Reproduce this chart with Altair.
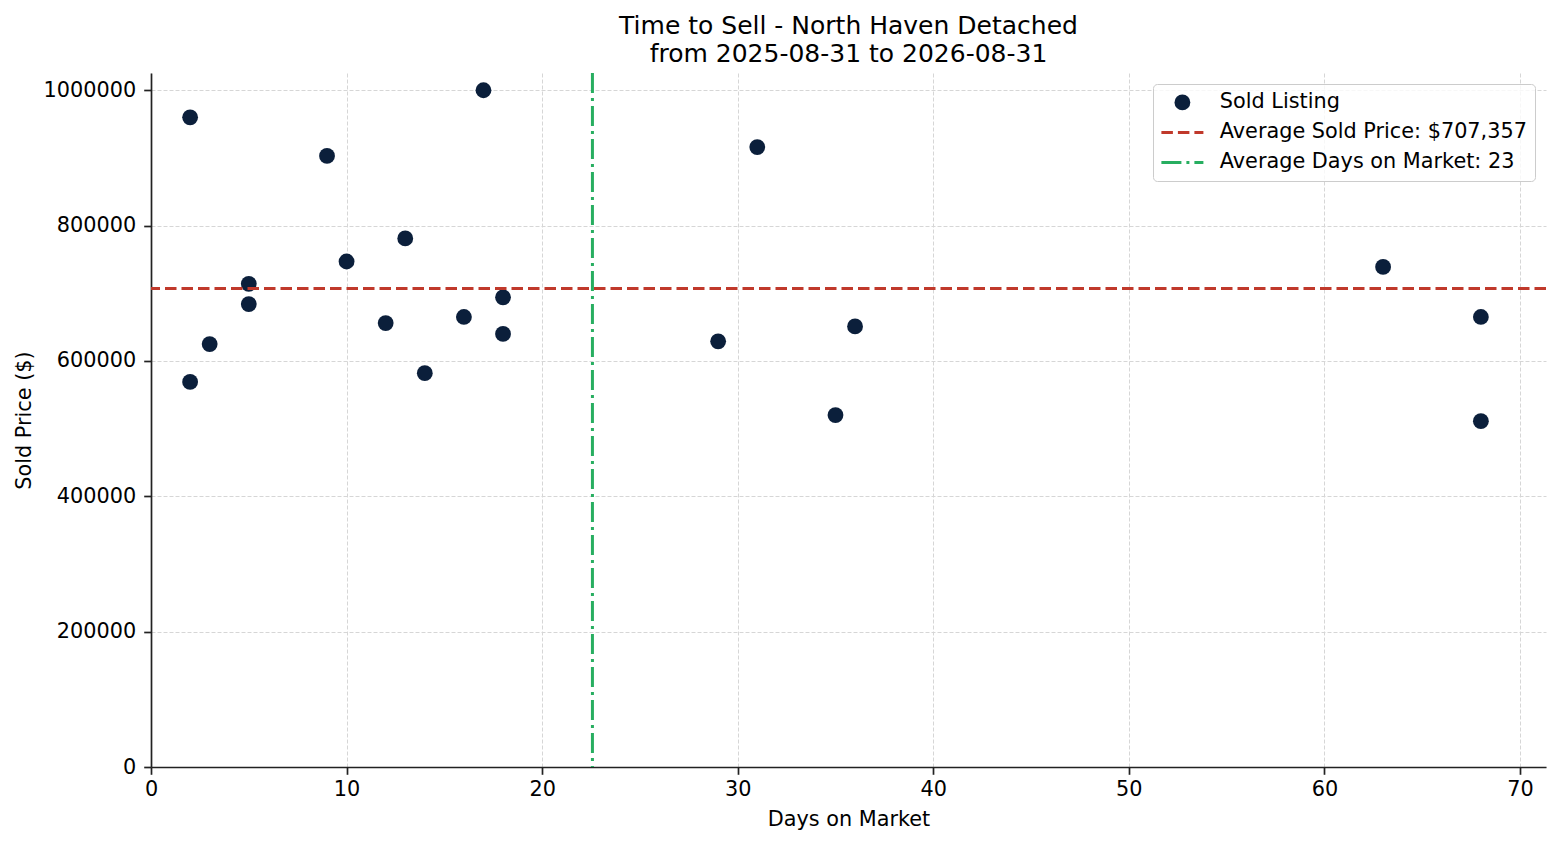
import json
import pandas as pd
import altair as alt

# values
DAYS = [2, 2, 3, 5, 5, 9, 10, 12, 13, 14, 16, 17, 18, 18, 29, 31, 35, 36, 63, 68, 68]
PRICE = [960000, 569000, 625000, 714000, 684000, 903000, 747000, 656000, 781000,
         582000, 665000, 1000000, 694000, 640000, 629000, 916000, 520000, 651000,
         739000, 665000, 511000]
LABELS = ["Sold Listing", "Average Sold Price: $707,357", "Average Days on Market: 23"]
COLORS = ["#0b1f3b", "#c0392b", "#27ae60"]
X_TICKS = [0, 10, 20, 30, 40, 50, 60, 70]
Y_TICKS = [0, 200000, 400000, 600000, 800000, 1000000]

FONT = "DejaVu Sans"
PRICE_DASH = [11.5, 5]
DAYS_DASH = [20, 5, 3, 5]

df = pd.DataFrame({"days": DAYS, "price": PRICE, "series": LABELS[0]})


def per_entry(values):
    """Expression picking a legend symbol property for each of the three entries."""
    key = "(datum.value || datum)"
    v = [json.dumps(x) for x in values]
    return alt.ExprRef(
        f"{key} === '{LABELS[0]}' ? {v[0]} : {key} === '{LABELS[1]}' ? {v[1]} : {v[2]}"
    )


legend = alt.Legend(
    title=None,
    orient="top-right",
    offset=11,
    padding=8,
    strokeColor="#cccccc",
    fillColor="rgba(255,255,255,0.8)",
    cornerRadius=4,
    labelFont=FONT,
    labelFontSize=20.8,
    labelColor="black",
    labelLimit=600,
    labelOffset=27,
    rowPadding=8,
    symbolOffset=11,
    symbolType=per_entry(["circle", "stroke", "stroke"]),
    symbolSize=per_entry([250, 1764, 1764]),
    symbolFillColor=per_entry([COLORS[0], "transparent", "transparent"]),
    symbolStrokeColor=per_entry(COLORS),
    symbolStrokeWidth=per_entry([0, 3, 3]),
    symbolDash=per_entry([[1, 0], PRICE_DASH, DAYS_DASH]),
    symbolOpacity=1,
)

color = alt.Color(
    "series:N",
    scale=alt.Scale(domain=LABELS, range=COLORS),
    legend=legend,
)

points = alt.Chart(df).mark_point(filled=True, size=250, opacity=1).encode(
    x=alt.X(
        "days:Q",
        title="Days on Market",
        scale=alt.Scale(domain=[0, 71.33], nice=False, zero=False),
        axis=alt.Axis(values=X_TICKS, format="d", labelFlush=False,
                      labelPadding=5, titlePadding=10),
    ),
    y=alt.Y(
        "price:Q",
        title="Sold Price ($)",
        scale=alt.Scale(domain=[0, 1025500], nice=False),
        axis=alt.Axis(values=Y_TICKS, format="d", labelFlush=False, titlePadding=9),
    ),
    color=color,
)

# average lines, computed from the listings
price_rule = alt.Chart(df).mark_rule(strokeDash=PRICE_DASH, strokeWidth=3).encode(
    y="mean(price):Q",
    color=alt.datum(LABELS[1]),
)

days_rule = alt.Chart(df).mark_rule(strokeDash=DAYS_DASH, strokeWidth=3).encode(
    x="mean(days):Q",
    color=alt.datum(LABELS[2]),
)

chart = (points + price_rule + days_rule).properties(
    width=1395,
    height=694,
    autosize=alt.AutoSizeParams(type="none"),
    padding={"left": 143, "top": 65, "right": 6, "bottom": 70},
    title=alt.Title(
        ["Time to Sell - North Haven Detached", "from 2025-08-31 to 2026-08-31"],
        font=FONT,
        fontSize=25,
        fontWeight="normal",
        color="black",
        anchor="middle",
        lineHeight=28,
        offset=5,
    ),
).configure_view(
    stroke=None
).configure_axis(
    labelFont=FONT,
    labelFontSize=20.8,
    labelColor="black",
    titleFont=FONT,
    titleFontSize=20.8,
    titleFontWeight="normal",
    titleColor="black",
    domainColor="#222222",
    domainWidth=1.7,
    tickColor="#222222",
    tickWidth=1.7,
    tickSize=7.3,
    labelPadding=8,
    gridColor="#d6d6d6",
    gridDash=[4, 2],
    gridWidth=1,
)

chart.save("out.html", embed_options={"renderer": "svg", "actions": False})
